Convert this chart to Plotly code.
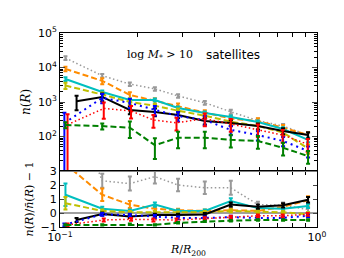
import plotly.graph_objects as go
import numpy as np

# ---------------- data ----------------
R = [0.105, 0.146, 0.187, 0.234, 0.288, 0.366, 0.462, 0.589, 0.738, 0.923]
R_black = [0.116, 0.146, 0.187, 0.234, 0.288, 0.366, 0.462, 0.589, 0.738, 0.923]
R_blue = [0.104, 0.146, 0.187, 0.234, 0.288, 0.366, 0.462, 0.589, 0.738, 0.923]
R_red = [0.107, 0.148, 0.189, 0.231, 0.284, 0.366, 0.462, 0.589, 0.735, 0.92]

# top panel: n(R)
n_grey   = [18800, 5800, 3300, 2400, 1500, 950, 520, 290, 200, 110]
n_orange = [9100, 4100, 1600, 1070, 760, 480, 330, 280, 180, 110]
n_cyan   = [4640, 1950, 1140, 1140, 670, 480, 367, 263, 165, 80]
n_yellow = [3000, 1650, 1000, 780, 560, 400, 270, 200, 130, 45]
n_black  = [1050, 1400, 590, 515, 420, 280, 247, 200, 145, 110]
n_blue   = [245, 1320, 940, 585, 390, 300, 155, 110, 74, 38]
n_red    = [220, 650, 550, 300, 250, 330, 230, 160, 110, 60]
n_green  = [215, 200, 180, 56, 92, 92, 80, 74, 47, 27]

e_grey   = [0.12, 0.12, 0.12, 0.12, 0.12, 0.12, 0.15, 0.15, 0.15, 0.15]
e_orange = [0.15, 0.2, 0.2, 0.2, 0.2, 0.2, 0.2, 0.2, 0.2, 0.2]
e_cyan   = [0.12, 0.1, 0.1, 0.1, 0.1, 0.1, 0.1, 0.1, 0.12, 0.15]
e_yellow = [0.2, 0.15, 0.15, 0.15, 0.15, 0.15, 0.15, 0.2, 0.2, 0.3]
e_black  = [0.45, 0.25, 0.25, 0.25, 0.2, 0.2, 0.2, 0.2, 0.2, 0.2]
e_blue   = [1.0, 0.3, 0.3, 0.3, 0.3, 0.3, 0.3, 0.3, 0.3, 0.35]
e_red    = [1.0, 0.5, 0.4, 0.4, 0.4, 0.4, 0.4, 0.4, 0.4, 0.4]
e_green  = [0.2, 0.2, 0.5, 0.6, 0.5, 0.5, 0.4, 0.4, 0.4, 0.4]

# bottom panel: n/nbar - 1
d_grey   = [9.0, 2.3, 2.1, 2.6, 2.0, 1.8, 1.8, 0.6, 0.55, 0.25]
d_orange = [3.5, 1.3, 0.6, 0.3, 0.2, 0.15, 0.2, 0.15, 0.45, 0.9]
d_cyan   = [1.3, 0.3, 0.15, 0.6, 0.15, 0.15, 0.85, 0.35, 0.3, 0.5]
d_yellow = [0.7, 0.15, 0.05, 0.05, 0.0, 0.05, 0.15, 0.1, 0.05, -0.1]
d_black  = [-0.5, -0.07, -0.25, -0.15, -0.15, -0.1, 0.6, 0.45, 0.55, 0.95]
d_blue   = [-0.85, -0.1, -0.15, -0.25, -0.35, -0.35, -0.3, -0.35, -0.35, -0.2]
d_red    = [-0.85, -0.5, -0.45, -0.5, -0.5, -0.4, -0.3, -0.2, -0.2, -0.1]
d_green  = [-0.85, -0.85, -0.8, -0.85, -0.7, -0.6, -0.55, -0.5, -0.5, -0.5]

de_grey   = [0.5, 0.5, 0.5, 0.5, 0.45, 0.45, 0.5, 0.2, 0.2, 0.2]
de_orange = [0.5, 0.45, 0.25, 0.15, 0.1, 0.1, 0.1, 0.1, 0.2, 0.3]
de_cyan   = [0.8, 0.15, 0.1, 0.15, 0.1, 0.1, 0.2, 0.1, 0.1, 0.15]
de_yellow = [0.45, 0.1, 0.1, 0.1, 0.1, 0.1, 0.1, 0.1, 0.1, 0.15]
de_black  = [0.15, 0.1, 0.1, 0.1, 0.1, 0.1, 0.15, 0.15, 0.15, 0.2]
de_blue   = [0.1, 0.1, 0.1, 0.1, 0.1, 0.1, 0.1, 0.1, 0.1, 0.1]
de_red    = [0.1, 0.1, 0.1, 0.1, 0.1, 0.1, 0.1, 0.1, 0.1, 0.1]
de_green  = [0.05, 0.05, 0.05, 0.05, 0.05, 0.05, 0.05, 0.05, 0.05, 0.05]

x_tick_vals = [0.1, 1.0]
x_tick_text = ["10<sup>\u22121</sup>", "10<sup>0</sup>"]
y_tick_vals = [1e2, 1e3, 1e4, 1e5]
y_tick_text = ["10<sup>2</sup>", "10<sup>3</sup>", "10<sup>4</sup>", "10<sup>5</sup>"]
r_tick_vals = [-1, 0, 1, 2, 3]
r_tick_text = ["\u22121", "0", "1", "2", "3"]

# ---------------- styles ----------------
series = [
    ("grey",   R,       n_grey,   e_grey,   d_grey,   de_grey,   "#999999", "1.5px,2.5px", 1.5),
    ("orange", R,       n_orange, e_orange, d_orange, de_orange, "#ff8c00", "6px,3px", 2),
    ("cyan",   R,       n_cyan,   e_cyan,   d_cyan,   de_cyan,   "#00bfbf", "solid", 2),
    ("yellow", R,       n_yellow, e_yellow, d_yellow, de_yellow, "#bfbf00", "6px,3px", 2),
    ("black",  R_black, n_black,  e_black,  d_black,  de_black,  "#000000", "solid", 2),
    ("blue",   R_blue,  n_blue,   e_blue,   d_blue,   de_blue,   "#0000ff", "2px,4px", 2),
    ("red",    R_red,   n_red,    e_red,    d_red,    de_red,    "#ff0000", "1.5px,2.5px", 1.5),
    ("green",  R,       n_green,  e_green,  d_green,  de_green,  "#008000", "6px,3px", 2),
]

fig = go.Figure()
for name, xs, n, ef, d, de, col, dash, lw in series:
    n_arr = np.array(n, dtype=float)
    err = n_arr * np.array(ef)
    fig.add_trace(go.Scatter(
        x=xs, y=n, mode="lines", name=name, xaxis="x", yaxis="y",
        line=dict(color=col, width=lw, dash=dash),
        error_y=dict(type="data", array=list(err), arrayminus=list(err),
                     color=col, thickness=2, width=2),
        showlegend=False))
    fig.add_trace(go.Scatter(
        x=xs, y=d, mode="lines", name=name, xaxis="x2", yaxis="y2",
        line=dict(color=col, width=lw, dash=dash),
        error_y=dict(type="data", array=de, color=col, thickness=2, width=2),
        showlegend=False))

W, H = 344, 258
L, Rm, T, B = 52, 35, 25, 39
split = 56 / 194.0

axis_common = dict(showline=True, linecolor="black", linewidth=1, mirror="ticks",
                   ticks="inside", showgrid=False, zeroline=False,
                   tickfont=dict(family="DejaVu Sans", size=11, color="black"))

fig.update_layout(
    width=W, height=H, margin=dict(l=L, r=Rm, t=T, b=B),
    paper_bgcolor="white", plot_bgcolor="white",
    xaxis=dict(type="log", range=[-1, 0], domain=[0, 1], anchor="y",
               tickvals=x_tick_vals, ticktext=["", ""], ticklen=5,
               minor=dict(tickvals=[0.2, 0.3, 0.4, 0.5, 0.6, 0.7, 0.8, 0.9],
                          ticks="inside", ticklen=4, tickcolor="black"),
               **axis_common),
    yaxis=dict(type="log", range=[1, 5], domain=[split, 1], anchor="x",
               tickvals=y_tick_vals, ticktext=y_tick_text, ticklen=5,
               minor=dict(tickvals=[m * 10 ** k for k in range(1, 5) for m in range(2, 10)],
                          ticks="inside", ticklen=3, tickcolor="black"),
               title=dict(text="<i>n</i>(<i>R</i>)", standoff=4,
                          font=dict(family="DejaVu Serif", size=12, color="black")),
               **axis_common),
    xaxis2=dict(type="log", range=[-1, 0], domain=[0, 1], anchor="y2",
                tickvals=x_tick_vals, ticktext=x_tick_text, ticklen=5,
                minor=dict(tickvals=[0.2, 0.3, 0.4, 0.5, 0.6, 0.7, 0.8, 0.9],
                           ticks="inside", ticklen=4, tickcolor="black"),
                title=dict(text="<i>R</i>/<i>R</i><sub>200</sub>", standoff=2,
                           font=dict(family="DejaVu Serif", size=11, color="black")),
                **axis_common),
    yaxis2=dict(range=[-1, 3], domain=[0, split], anchor="x2",
                tickvals=r_tick_vals, ticktext=r_tick_text, ticklen=4,
                title=dict(text="<i>n</i>(<i>R</i>)/<i>n\u0304</i>(<i>R</i>) \u2212 1", standoff=4,
                           font=dict(family="DejaVu Serif", size=11, color="black")),
                **axis_common),
    shapes=[
        dict(type="line", xref="x2 domain", yref="y2", x0=0, x1=1, y0=0, y1=0,
             line=dict(color="#7f7f7f", width=1.5), layer="below"),
        dict(type="line", xref="x2 domain", yref="y2", x0=0, x1=1, y0=3, y1=3,
             line=dict(color="#7f7f7f", width=2), layer="above"),
    ],
    annotations=[
        dict(text="log <i>M</i><sub>*</sub> > 10", xref="paper", yref="paper",
             x=0.39, y=0.887, showarrow=False, xanchor="center", yanchor="middle",
             font=dict(family="DejaVu Serif", size=11, color="black")),
        dict(text="satellites", xref="paper", yref="paper",
             x=0.673, y=0.887, showarrow=False, xanchor="center", yanchor="middle",
             font=dict(family="DejaVu Sans", size=12, color="black")),
    ],
)

fig.write_html("out.html")
